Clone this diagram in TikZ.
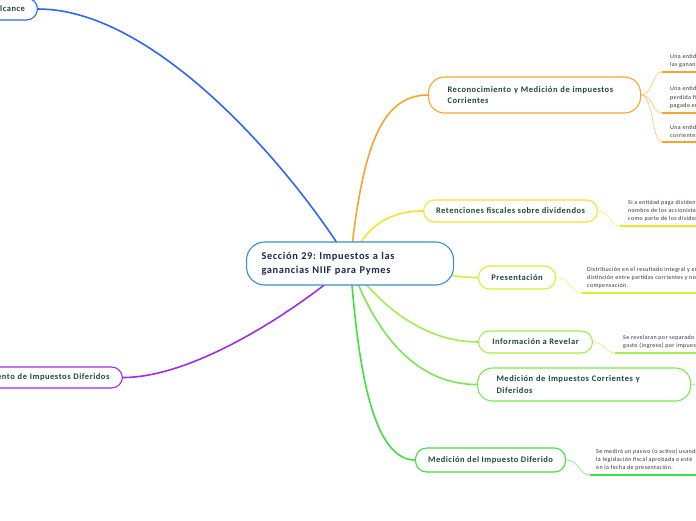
\documentclass[tikz,border=0pt]{standalone}
\usepackage{fontspec}
\setmainfont{Carlito}[LetterSpace=6]
\frenchspacing
\usetikzlibrary{backgrounds}
\definecolor{cblue}{HTML}{2F66F2}
\definecolor{cborder}{HTML}{3B8BD0}
\definecolor{corange}{HTML}{F7A52A}
\definecolor{cyellow}{HTML}{F6E22A}
\definecolor{cyg}{HTML}{D6EF30}
\definecolor{clg}{HTML}{A3EE4E}
\definecolor{cmg}{HTML}{78E850}
\definecolor{cgreen}{HTML}{40E040}
\definecolor{cpurple}{HTML}{A42AEC}
\definecolor{labgreen}{HTML}{1D4A38}
\definecolor{navy}{HTML}{1C2A4C}
\definecolor{leafgray}{HTML}{333333}
\begin{document}
\begin{tikzpicture}[x=1pt,y=-1pt,
  branch/.style={draw=#1, line width=1.1pt, fill=white, rounded corners=11pt,
    font=\fontsize{8.5}{11}\selectfont\bfseries, text=labgreen, inner sep=0pt},
  conn/.style={draw=#1, line width=1.6pt},
  leafline/.style={draw=#1!60, line width=0.7pt},
  under/.style={draw=#1, line width=1.6pt},
  leaf/.style={font=\fontsize{6}{8.4}\selectfont, text=leafgray, align=left,
    inner sep=0pt, anchor=south west}]
\useasboundingbox (0,0) rectangle (696,520);
\clip (0,0) rectangle (696,520);

% central node
\node[branch=cborder, rounded corners=18pt, minimum height=43, text width=177,
  inner xsep=15, align=left, anchor=west, text=navy,
  font=\fontsize{10.4}{14}\selectfont\bfseries] (c) at (246,263.5)
  {Sección 29: Impuestos a las\\ganancias NIIF para Pymes};

% branches
\node[branch=cblue, minimum height=22, text width=160, inner xsep=12.5,
  align=right, anchor=east] (alc) at (38,9) {Alcance};
\node[branch=corange, rounded corners=16pt, minimum height=36, text width=174,
  inner xsep=19, align=left, anchor=west] (rec) at (428,95)
  {Reconocimiento y Medición de impuestos\\Corrientes};
\node[branch=cyellow, minimum width=174, minimum height=22, anchor=west] (ret)
  at (423,211) {Retenciones fiscales sobre dividendos};
\node[branch=cyg, minimum width=77, minimum height=23, anchor=west] (pres)
  at (478,277.5) {Presentación};
\node[branch=clg, minimum width=114, minimum height=22, anchor=west] (info)
  at (478,342) {Información a Revelar};
\node[branch=cmg, rounded corners=15pt, minimum height=33, text width=175,
  inner xsep=19, align=left, anchor=west, font=\fontsize{8.5}{12}\selectfont\bfseries] (medc)
  at (477,384.5) {Medición de Impuestos Corrientes y\\Diferidos};
\node[branch=cgreen, minimum width=150, minimum height=24, anchor=west] (medd)
  at (415,460) {Medición del Impuesto Diferido};
\node[branch=cpurple, minimum height=21, text width=220, inner xsep=13,
  align=right, anchor=east] (rid) at (123,377.5) {Reconocimiento de Impuestos Diferidos};

% leaves
\coordinate (u1) at (662,72);  \coordinate (u1e) at (700,72);
\coordinate (u2) at (662,113); \coordinate (u2e) at (700,113);
\coordinate (u3) at (662,142); \coordinate (u3e) at (700,142);
\coordinate (u4) at (620,226); \coordinate (u4e) at (700,226);
\coordinate (u5) at (582,293); \coordinate (u5e) at (700,293);
\coordinate (u6) at (615,353); \coordinate (u6e) at (700,353);
\coordinate (u7) at (590,475); \coordinate (u7e) at (700,475);
\coordinate (u8) at (700,384);

\node[leaf] (l1) at (670,68) {Una entidad reconocerá\\las ganancias};
\node[leaf] (l2) at (670,109) {Una entidad reconocerá\\perdida fiscal\\pagado en};
\node[leaf] (l3) at (670,138) {Una entidad medirá\\corrientes};
\node[leaf] (l4) at (628,222) {Si a entidad paga dividendos\\nombre de los accionistas\\como parte de los dividendos};
\node[leaf] (l5) at (587,289) {Distribución en el resultado integral y en\\distinción entre partidas corrientes y no\\compensación.};
\node[leaf] (l6) at (623,349) {Se revelaran por separado\\gasto (ingreso) por impuestos};
\node[leaf] (l7) at (596,471) {Se medirá un pasivo (o activo) usando\\la legislación fiscal aprobada o esté\\en la fecha de presentación.};

\begin{scope}[on background layer]
\draw[conn=cblue] (c.center) .. controls (300,180) and (160,9) .. (alc.east);
\draw[conn=corange] (c.center) .. controls (362,150) and (380,95) .. (rec.west);
\draw[conn=cyellow] (c.center) .. controls (365,225) and (390,211) .. (ret.west);
\draw[conn=cyg] (c.center) .. controls (420,265) and (440,277.5) .. (pres.west);
\draw[conn=clg] (c.center) .. controls (375,300) and (420,342) .. (info.west);
\draw[conn=cmg] (c.center) .. controls (365,305) and (400,384.5) .. (medc.west);
\draw[conn=cgreen] (c.center) .. controls (356,330) and (365,460) .. (medd.west);
\draw[conn=cpurple] (c.center) .. controls (310,300) and (200,377.5) .. (rid.east);

\draw[leafline=corange] (rec.east) .. controls +(12,0) and +(-10,0) .. (u1);
\draw[leafline=corange] (rec.east) .. controls +(12,0) and +(-10,0) .. (u2);
\draw[leafline=corange] (rec.east) .. controls +(12,0) and +(-10,0) .. (u3);
\draw[under=corange] (u1) -- (u1e);
\draw[under=corange] (u2) -- (u2e);
\draw[under=corange] (u3) -- (u3e);
\draw[leafline=cyellow] (ret.east) .. controls +(12,0) and +(-10,0) .. (u4);
\draw[under=cyellow] (u4) -- (u4e);
\draw[leafline=cyg] (pres.east) .. controls +(14,0) and +(-12,0) .. (u5);
\draw[under=cyg] (u5) -- (u5e);
\draw[leafline=clg] (info.east) .. controls +(12,0) and +(-10,0) .. (u6);
\draw[under=clg] (u6) -- (u6e);
\draw[leafline=cmg] (medc.east) -- (u8);
\draw[leafline=cgreen] (medd.east) .. controls +(13,0) and +(-11,0) .. (u7);
\draw[under=cgreen] (u7) -- (u7e);
\end{scope}
\end{tikzpicture}
\end{document}
